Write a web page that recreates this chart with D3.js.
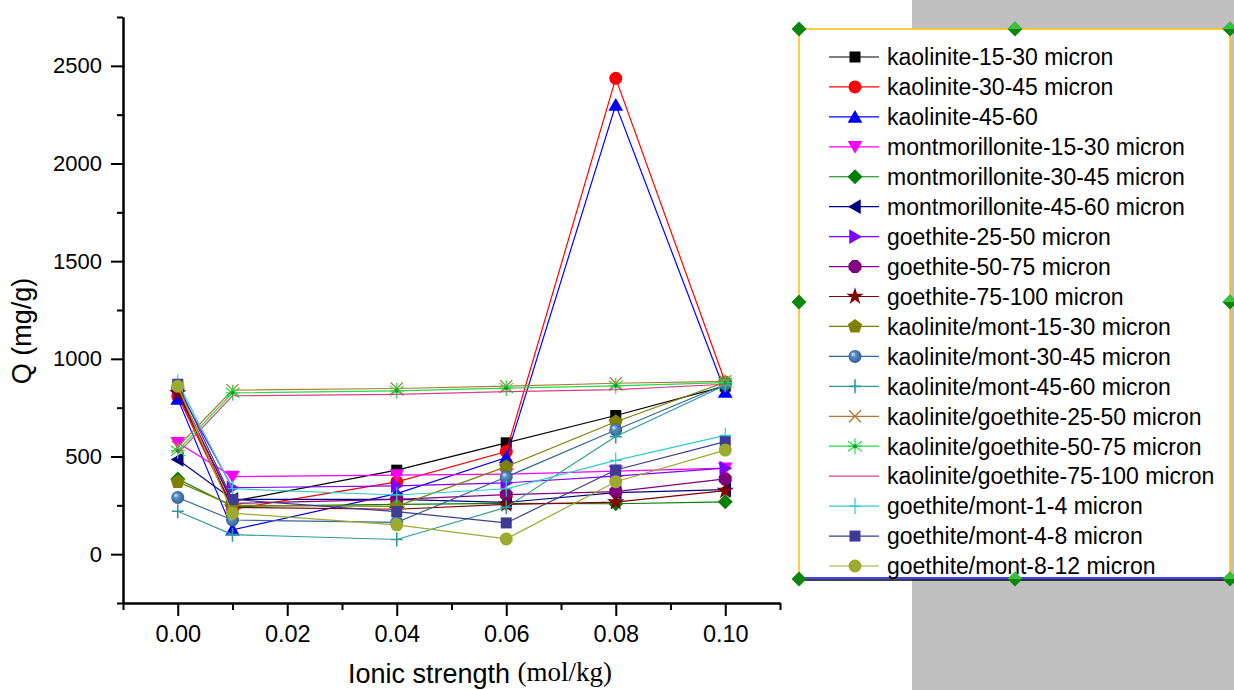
<!DOCTYPE html>
<html>
<head>
<meta charset="utf-8">
<script src="https://cdn.jsdelivr.net/npm/d3@7/dist/d3.min.js"></script>
<style>
	body{margin:0;background:#ffffff;}
	svg{display:block;font-family:"Liberation Sans",Arial,sans-serif;}
</style>
</head>
<body>
<svg id="chart" width="1234" height="690"></svg>
<script>
// ionic strength (mol/kg)
var ionicStrength = [0, 0.01, 0.04, 0.06, 0.08, 0.10];

// Q (mg/g) per sample
var kaolinite1530 = [830, 270, 430, 570, 710, 860];
var kaolinite3045 = [810, 230, 370, 525, 2436, 880];
var kaolinite4560 = [795, 125, 310, 495, 2300, 830];
var mont1530 = [570, 397, 405, 410, 425, 440];
var mont3045 = [385, 245, 255, 260, 258, 268];
var mont4560 = [485, 280, 280, 265, 315, 330];
var goethite2550 = [850, 340, 350, 365, 400, 440];
var goethite5075 = [845, 260, 280, 305, 320, 385];
var goethite75100 = [825, 240, 230, 255, 266, 325];
var kaolMont1530 = [370, 250, 245, 448, 678, 880];
var kaolMont3045 = [290, 175, 163, 395, 636, 870];
var kaolMont4560 = [220, 100, 75, 240, 602, 865];
var kaolGoe2550 = [550, 840, 848, 860, 875, 885];
var kaolGoe5075 = [530, 826, 836, 850, 862, 878];
var kaolGoe75100 = [515, 811, 818, 832, 842, 870];
var goeMont14 = [880, 335, 303, 335, 480, 608];
var goeMont48 = [870, 280, 218, 160, 431, 576];
var goeMont812 = [860, 210, 150, 78, 371, 533];

var seriesNames = [
	"kaolinite-15-30 micron", "kaolinite-30-45 micron", "kaolinite-45-60",
	"montmorillonite-15-30 micron", "montmorillonite-30-45 micron", "montmorillonite-45-60 micron",
	"goethite-25-50 micron", "goethite-50-75 micron", "goethite-75-100 micron",
	"kaolinite/mont-15-30 micron", "kaolinite/mont-30-45 micron", "kaolinite/mont-45-60 micron",
	"kaolinite/goethite-25-50 micron", "kaolinite/goethite-50-75 micron", "kaolinite/goethite-75-100 micron",
	"goethite/mont-1-4 micron", "goethite/mont-4-8 micron", "goethite/mont-8-12 micron"
];
var seriesValues = [
	kaolinite1530, kaolinite3045, kaolinite4560,
	mont1530, mont3045, mont4560,
	goethite2550, goethite5075, goethite75100,
	kaolMont1530, kaolMont3045, kaolMont4560,
	kaolGoe2550, kaolGoe5075, kaolGoe75100,
	goeMont14, goeMont48, goeMont812
];

var xTicks = [0, 0.02, 0.04, 0.06, 0.08, 0.10];
var xMinorTicks = [-0.01, 0.01, 0.03, 0.05, 0.07, 0.09, 0.11];
var yTicks = [0, 500, 1000, 1500, 2000, 2500];
var yMinorTicks = [-250, 250, 750, 1250, 1750, 2250, 2750];

// origin-like symbol styles, one per series
var seriesStyles = [
	{"color": "#000000", "marker": "square"},
	{"color": "#ff0000", "marker": "circle"},
	{"color": "#0000ff", "marker": "triUp"},
	{"color": "#ff00ff", "marker": "triDown"},
	{"color": "#008000", "marker": "diamond"},
	{"color": "#000080", "marker": "triLeft"},
	{"color": "#8000ff", "marker": "triRight"},
	{"color": "#800080", "marker": "hexagon"},
	{"color": "#800000", "marker": "star"},
	{"color": "#808000", "marker": "pentagon"},
	{"color": "#336699", "marker": "sphere"},
	{"color": "#2f9b9b", "marker": "plus"},
	{"color": "#b07838", "marker": "cross"},
	{"color": "#22dd44", "marker": "asterisk"},
	{"color": "#dd3f88", "marker": "none"},
	{"color": "#33cccc", "marker": "thinPlus"},
	{"color": "#3c3c96", "marker": "square"},
	{"color": "#9aab30", "marker": "circle"}
];

var svg = d3.select("#chart");

var x = d3.scaleLinear().domain([-0.01, 0.11]).range([123, 780]);
var y = d3.scaleLinear().domain([-250, 2750]).range([603, 17]);

// grey background on the right
svg.append("rect")
   .attr("x", 912).attr("y", 0)
   .attr("width", 322).attr("height", 690)
   .attr("fill", "#c0c0c0");

var defs = svg.append("defs");
var grad = defs.append("radialGradient")
			   .attr("id", "sphereGrad")
			   .attr("cx", "50%").attr("cy", "50%").attr("r", "55%")
			   .attr("fx", "32%").attr("fy", "30%");
grad.append("stop").attr("offset", "0%").attr("stop-color", "#e8f0ff");
grad.append("stop").attr("offset", "35%").attr("stop-color", "#5d8cc4");
grad.append("stop").attr("offset", "100%").attr("stop-color", "#2a5a8e");

function polygon(n, r, rot){
	var pts = [];
	for(var i = 0; i < n; i++){
		var a = rot + i * 2 * Math.PI / n;
		pts.push([r * Math.cos(a), r * Math.sin(a)]);
	}
	return "M" + pts.map(function(p){ return p[0].toFixed(2) + "," + p[1].toFixed(2); }).join("L") + "Z";
}

function drawMarker(g, style, cx, cy){
	var c = style.color;
	var t = "translate(" + cx + "," + cy + ")";
	var sym = d3.symbol();
	switch(style.marker){
		case "square":
			g.append("rect").attr("x", cx - 5.5).attr("y", cy - 5.5)
			 .attr("width", 11).attr("height", 11).attr("fill", c);
			break;
		case "circle":
			g.append("circle").attr("cx", cx).attr("cy", cy).attr("r", 6.5).attr("fill", c);
			break;
		case "sphere":
			g.append("circle").attr("cx", cx).attr("cy", cy).attr("r", 6.5).attr("fill", "url(#sphereGrad)");
			break;
		case "hexagon":
			g.append("path").attr("d", polygon(8, 7, Math.PI / 8)).attr("transform", t).attr("fill", c);
			break;
		case "pentagon":
			g.append("path").attr("d", polygon(5, 7.5, -Math.PI / 2)).attr("transform", t).attr("fill", c);
			break;
		case "diamond":
			g.append("path").attr("d", polygon(4, 7.5, 0)).attr("transform", t).attr("fill", c);
			break;
		case "triUp":
			g.append("path").attr("d", polygon(3, 8.5, -Math.PI / 2)).attr("transform", t + "translate(0,1.5)").attr("fill", c);
			break;
		case "triDown":
			g.append("path").attr("d", polygon(3, 8.5, Math.PI / 2)).attr("transform", t + "translate(0,-1.5)").attr("fill", c);
			break;
		case "triLeft":
			g.append("path").attr("d", polygon(3, 8.5, Math.PI)).attr("transform", t + "translate(1.5,0)").attr("fill", c);
			break;
		case "triRight":
			g.append("path").attr("d", polygon(3, 8.5, 0)).attr("transform", t + "translate(-1.5,0)").attr("fill", c);
			break;
		case "star":
			g.append("path").attr("d", sym.type(d3.symbolStar).size(95)()).attr("transform", t).attr("fill", c);
			break;
		case "plus":
			g.append("path").attr("d", "M-6,0H6M0,-7V7").attr("transform", t)
			 .attr("stroke", c).attr("stroke-width", 1.6).attr("fill", "none");
			break;
		case "thinPlus":
			g.append("path").attr("d", "M-6,0H6M0,-8V8").attr("transform", t)
			 .attr("stroke", c).attr("stroke-width", 1.2).attr("fill", "none");
			break;
		case "cross":
			g.append("path").attr("d", "M-6,-6L6,6M-6,6L6,-6").attr("transform", t)
			 .attr("stroke", c).attr("stroke-width", 1.3).attr("fill", "none");
			break;
		case "asterisk":
			g.append("path").attr("d", "M0,-8V8M-7,-5L7,5M-7,5L7,-5M-7,0H7").attr("transform", t)
			 .attr("stroke", c).attr("stroke-width", 1.2).attr("fill", "none");
			g.append("circle").attr("cx", cx).attr("cy", cy).attr("r", 2).attr("fill", "#119933");
			break;
	}
}

// axes
function styleAxis(g){
	g.select(".domain").attr("stroke", "#000").attr("stroke-width", 2);
	g.selectAll(".tick line").attr("stroke", "#000").attr("stroke-width", 2);
	g.selectAll(".tick text").attr("fill", "#000");
}

var yAxis = svg.append("g")
			   .attr("transform", "translate(123,0)")
			   .call(d3.axisLeft(y).tickValues(yTicks).tickSize(12).tickSizeOuter(0).tickPadding(9)
			   .tickFormat(d3.format("d")))
			   .attr("font-size", 22).attr("font-family", null);
styleAxis(yAxis);
var yMinor = svg.append("g")
				.attr("transform", "translate(123,0)")
				.call(d3.axisLeft(y).tickValues(yMinorTicks).tickSize(6).tickSizeOuter(0).tickFormat(""));
styleAxis(yMinor);

var xAxis = svg.append("g")
			   .attr("transform", "translate(0,603)")
			   .call(d3.axisBottom(x).tickValues(xTicks).tickSize(13).tickSizeOuter(0).tickPadding(9)
			   .tickFormat(d3.format(".2f")))
			   .attr("font-size", 23.5).attr("font-family", null);
styleAxis(xAxis);
var xMinor = svg.append("g")
				.attr("transform", "translate(0,603)")
				.call(d3.axisBottom(x).tickValues(xMinorTicks).tickSize(7).tickSizeOuter(0).tickFormat(""));
styleAxis(xMinor);

// axis titles
svg.append("text")
   .attr("transform", "translate(31,331) rotate(-90)")
   .attr("text-anchor", "middle")
   .attr("font-size", 27)
   .text("Q (mg/g)");

var xTitle = svg.append("text")
				.attr("x", 480).attr("y", 683)
				.attr("text-anchor", "middle")
				.attr("font-size", 27);
xTitle.append("tspan").text("Ionic strength ");
xTitle.append("tspan")
	  .attr("font-family", "'Liberation Serif','Times New Roman',serif")
	  .attr("font-size", 27)
	  .attr("dy", -2)
	  .text("(mol/kg)");

// series
var line = d3.line()
			 .x(function(d, i){ return x(ionicStrength[i]); })
			 .y(function(d){ return y(d); });

var plot = svg.append("g").attr("class", "series");
seriesValues.forEach(function(vals, k){
	var style = seriesStyles[k];
	var g = plot.append("g");
	g.append("path")
	 .attr("d", line(vals))
	 .attr("fill", "none")
	 .attr("stroke", style.color)
	 .attr("stroke-width", 1.2);
	vals.forEach(function(v, i){
		drawMarker(g, style, x(ionicStrength[i]), y(v));
	});
});

// legend box
var lg = svg.append("g").attr("class", "legend");
lg.append("rect")
  .attr("x", 799).attr("y", 29)
  .attr("width", 431).attr("height", 550)
  .attr("fill", "#ffffff");
lg.append("path")
  .attr("d", "M799,579V29H1230V579")
  .attr("fill", "none").attr("stroke", "#ffc000").attr("stroke-width", 1.5);
lg.append("line").attr("x1", 799).attr("x2", 1230).attr("y1", 578).attr("y2", 578)
  .attr("stroke", "#0000ff").attr("stroke-width", 1.5);
lg.append("line").attr("x1", 799).attr("x2", 1230).attr("y1", 580).attr("y2", 580)
  .attr("stroke", "#000000").attr("stroke-width", 1.5);

seriesNames.forEach(function(name, k){
	var cy = 57 + k * 29.94;
	var style = seriesStyles[k];
	lg.append("line")
	  .attr("x1", 829).attr("x2", 879).attr("y1", cy).attr("y2", cy)
	  .attr("stroke", style.color).attr("stroke-width", 1.2);
	drawMarker(lg, style, 855, cy);
	lg.append("text")
	  .attr("x", 887).attr("y", cy).attr("dy", "0.36em")
	  .attr("font-size", 23)
	  .attr("fill", "#000")
	  .text(name);
});

// selection handles round the legend
var handles = [[799, 29], [1015, 29], [1230, 29], [799, 302], [1230, 302], [799, 579], [1015, 579], [1230, 579]];
lg.selectAll(".handle")
  .data(handles)
  .enter()
  .append("path")
	  .attr("class", "handle")
	  .attr("d", polygon(4, 7.5, 0))
	  .attr("transform", function(d){ return "translate(" + d[0] + "," + d[1] + ")"; })
	  .attr("fill", "#0a860a");
lg.selectAll(".handleTop")
  .data(handles.filter(function(d){ return d[0] > 800; }))
  .enter()
  .append("path")
	  .attr("d", "M-7.5,0L0,-7.5L7.5,0Z")
	  .attr("transform", function(d){ return "translate(" + d[0] + "," + d[1] + ")"; })
	  .attr("fill", "#3cc03c");
</script>
</body>
</html>
